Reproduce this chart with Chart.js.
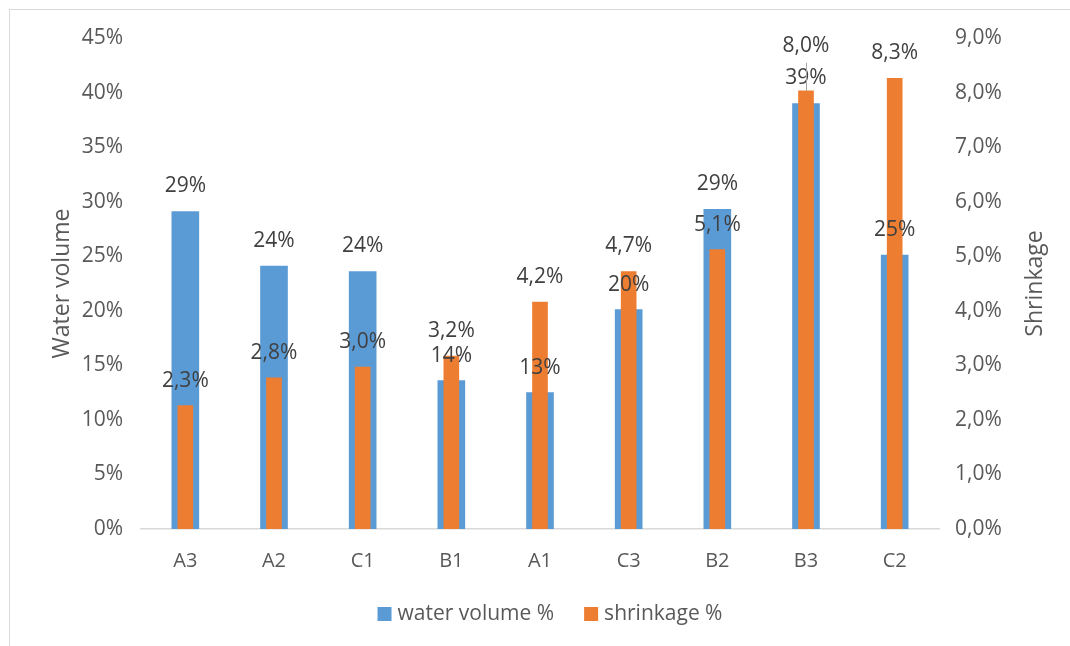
<!DOCTYPE html>
<html>
<head>
<meta charset="utf-8">
<script src="https://cdn.jsdelivr.net/npm/chart.js@4.4.1/dist/chart.umd.min.js"></script>
<style>
  body { margin: 0; background: #fff; }
</style>
</head>
<body>
  <canvas id="myChart" width="1070" height="646"></canvas>
  <script>
    var samples = ["A3", "A2", "C1", "B1", "A1", "C3", "B2", "B3", "C2"];
    var waterVolume = [29.1, 24.1, 23.6, 13.6, 12.5, 20.1, 29.3, 39.0, 25.1];
    var shrinkage = [2.26, 2.77, 2.97, 3.17, 4.16, 4.72, 5.12, 8.03, 8.26];
    var waterTicks = [0, 5, 10, 15, 20, 25, 30, 35, 40, 45];
    var shrinkTicks = [0, 1, 2, 3, 4, 5, 6, 7, 8, 9];

    var BLUE = "#5B9BD5";
    var ORANGE = "#ED7D31";
    var FONT = "'Open Sans', sans-serif";

    function comma(v) {
      return v.toFixed(1).replace(".", ",") + "%";
    }

    // frame, axis titles, legend and value labels
    var extras = {
      id: "extras",
      beforeDraw: function(chart) {
        var ctx = chart.ctx;
        ctx.save();
        ctx.strokeStyle = "#d9d9d9";
        ctx.lineWidth = 1;
        ctx.strokeRect(9.5, 9.5, 1200, 800);
        ctx.restore();
      },
      afterDatasetsDraw: function(chart) {
        var ctx = chart.ctx;
        var area = chart.chartArea;
        var mid = (area.top + area.bottom) / 2;
        ctx.save();
        ctx.fillStyle = "#595959";
        ctx.font = "23px " + FONT;
        ctx.textAlign = "center";
        ctx.textBaseline = "middle";
        ctx.translate(62, mid);
        ctx.rotate(-Math.PI / 2);
        ctx.fillText("Water volume", 0, 0);
        ctx.restore();

        ctx.save();
        ctx.fillStyle = "#595959";
        ctx.font = "23px " + FONT;
        ctx.textAlign = "center";
        ctx.textBaseline = "middle";
        ctx.translate(1035, mid);
        ctx.rotate(-Math.PI / 2);
        ctx.fillText("Shrinkage", 0, 0);
        ctx.restore();

        // legend
        ctx.save();
        ctx.font = "21px " + FONT;
        ctx.textBaseline = "middle";
        ctx.textAlign = "left";
        var items = [["water volume %", BLUE], ["shrinkage %", ORANGE]];
        var ly = 614;
        var gap = 30;
        var widths = items.map(function(it) { return ctx.measureText(it[0]).width; });
        var total = 14 + 6 + widths[0] + gap + 14 + 6 + widths[1];
        var lx = (area.left + area.right) / 2 - total / 2 + 10;
        items.forEach(function(it, i) {
          ctx.fillStyle = it[1];
          ctx.fillRect(lx, ly - 7, 14, 14);
          ctx.fillStyle = "#595959";
          ctx.fillText(it[0], lx + 20, ly);
          lx += 20 + widths[i] + gap;
        });
        ctx.restore();

        // value labels above each bar
        var blueMeta = chart.getDatasetMeta(0);
        var orangeMeta = chart.getDatasetMeta(1);
        ctx.save();
        ctx.font = "21px " + FONT;
        ctx.fillStyle = "#404040";
        ctx.textAlign = "center";
        ctx.textBaseline = "middle";
        for (var i = 0; i < samples.length; i++) {
          var b = blueMeta.data[i];
          var o = orangeMeta.data[i];
          var by = b.y - 25;
          var oy = o.y - 25;
          ctx.fillText(Math.round(waterVolume[i]) + "%", b.x, by);
          if (Math.abs(oy - by) < 20) {
            // lift a colliding label and tie it back to its bar
            var lifted = oy - 20;
            ctx.strokeStyle = "#a6a6a6";
            ctx.lineWidth = 1;
            ctx.beginPath();
            ctx.moveTo(Math.round(o.x) + 0.5, lifted + 17);
            ctx.lineTo(Math.round(o.x) + 0.5, o.y);
            ctx.stroke();
            oy = lifted;
          }
          ctx.fillText(comma(shrinkage[i]), o.x, oy);
        }
        ctx.restore();
      }
    };

    var ctx = document.getElementById("myChart").getContext("2d");
    var chart = new Chart(ctx, {
      type: "bar",
      data: {
        labels: samples,
        datasets: [{
          label: "water volume %",
          data: waterVolume,
          backgroundColor: BLUE,
          yAxisID: "y",
          grouped: false,
          barThickness: 27,
          order: 2
        }, {
          label: "shrinkage %",
          data: shrinkage,
          backgroundColor: ORANGE,
          yAxisID: "y1",
          grouped: false,
          barThickness: 15,
          order: 1
        }]
      },
      options: {
        responsive: false,
        animation: false,
        layout: { padding: { top: 38, left: 0, right: 0, bottom: 0 } },
        plugins: {
          legend: { display: false },
          tooltip: { enabled: false }
        },
        scales: {
          x: {
            grid: { display: false },
            border: { display: true, color: "#d9d9d9", width: 1.5 },
            ticks: { color: "#595959", font: { family: FONT, size: 20 }, padding: 12 },
            afterFit: function(s) { s.height = 117; }
          },
          y: {
            position: "left",
            min: 0,
            max: 45,
            grid: { display: false },
            border: { display: false },
            afterBuildTicks: function(s) { s.ticks = waterTicks.map(function(v) { return { value: v }; }); },
            ticks: {
              color: "#595959",
              font: { family: FONT, size: 21 },
              padding: 10,
              callback: function(v) { return v + "%"; }
            },
            afterFit: function(s) { s.width = 141; }
          },
          y1: {
            position: "right",
            min: 0,
            max: 9,
            grid: { display: false },
            border: { display: false },
            afterBuildTicks: function(s) { s.ticks = shrinkTicks.map(function(v) { return { value: v }; }); },
            ticks: {
              color: "#595959",
              font: { family: FONT, size: 21 },
              padding: 8,
              callback: function(v) { return comma(v); }
            },
            afterFit: function(s) { s.width = 131; }
          }
        }
      },
      plugins: [extras]
    });
  </script>
</body>
</html>
